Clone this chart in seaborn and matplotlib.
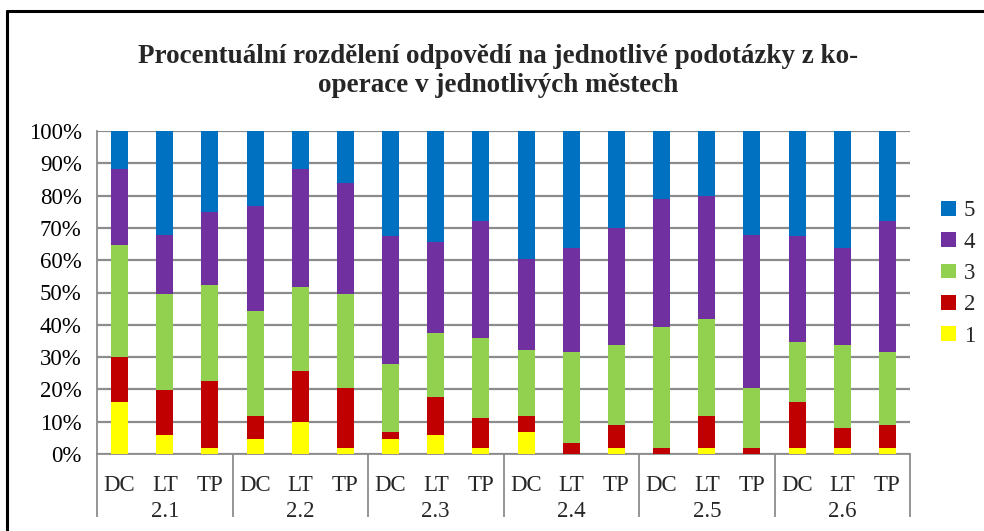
import matplotlib
matplotlib.use("Agg")
import matplotlib.pyplot as plt
import seaborn as sns
import pandas as pd
import numpy as np
from matplotlib.lines import Line2D
from matplotlib.patches import Patch

groups = ["2.1", "2.2", "2.3", "2.4", "2.5", "2.6"]
cities = ["DC", "LT", "TP"]

# percentages for answers 1..5 per bar (2.1 DC, 2.1 LT, 2.1 TP, 2.2 DC, ...)
ans1 = [16.0, 5.8, 2.0, 4.5, 10.0, 2.0, 4.5, 5.8, 2.0, 6.7, 0.0, 2.0, 0.0, 2.0, 0.0, 2.0, 2.0, 2.0]
ans2 = [14.0, 14.0, 20.6, 7.2, 15.8, 18.4, 2.2, 11.8, 9.0, 5.0, 3.5, 7.0, 2.0, 9.7, 2.0, 14.0, 5.9, 7.0]
ans3 = [34.7, 29.7, 29.7, 32.5, 25.9, 29.1, 21.2, 20.0, 25.0, 20.6, 28.2, 24.8, 37.2, 30.2, 18.3, 18.8, 25.8, 22.7]
ans4 = [23.4, 18.4, 22.7, 32.5, 36.4, 34.3, 39.7, 28.1, 36.2, 28.1, 32.2, 36.3, 39.6, 38.1, 47.5, 32.7, 30.2, 40.5]
ans5 = [11.9, 32.1, 25.0, 23.3, 11.9, 16.2, 32.4, 34.3, 27.8, 39.6, 36.1, 29.9, 21.2, 20.0, 32.2, 32.5, 36.1, 27.8]

legend_labels = ["5", "4", "3", "2", "1"]
colors = {"1": "#FFFF00", "2": "#C00000", "3": "#92D050", "4": "#7030A0", "5": "#0070C0"}

keys = [f"{g} {c}" for g in groups for c in cities]
df = pd.DataFrame({"key": keys, "1": ans1, "2": ans2, "3": ans3, "4": ans4, "5": ans5})
df["c1"] = df["1"]
df["c2"] = df["c1"] + df["2"]
df["c3"] = df["c2"] + df["3"]
df["c4"] = df["c3"] + df["4"]
df["c5"] = df["c4"] + df["5"]

sns.set_style("white")
plt.rcParams["font.family"] = ["Liberation Serif", "DejaVu Serif"]

fig = plt.figure(figsize=(9.84, 5.31), dpi=100)
ax = fig.add_axes([97 / 984, 1 - 454 / 531, (910 - 97) / 984, (454 - 131) / 531])

for lvl in ["5", "4", "3", "2", "1"]:
    sns.barplot(data=df, x="key", y="c" + lvl, color=colors[lvl], width=0.38,
                saturation=1, errorbar=None, linewidth=0, ax=ax, zorder=3)

grid_c = "#8c8c8c"
fs = 16.5
ax.set_ylim(0, 100)
ax.set_xlim(-0.5, len(keys) - 0.5)
yt = np.arange(0, 101, 10)
ax.set_yticks(yt)
ax.set_yticklabels([f"{v}%" for v in yt], fontsize=fs)
ax.yaxis.grid(True, color=grid_c, linewidth=1.6, zorder=0)
ax.set_axisbelow(True)
ax.tick_params(axis="y", length=7, width=1.3, color=grid_c, pad=4, labelcolor="black")
ax.set_ylabel("")
ax.set_xlabel("")

for s in ["top", "right"]:
    ax.spines[s].set_visible(False)
for s in ["left", "bottom"]:
    ax.spines[s].set_color(grid_c)
    ax.spines[s].set_linewidth(1.3)

n = len(keys)
ax.set_xticks(np.arange(n))
ax.set_xticklabels([c for g in groups for c in cities], fontsize=fs)
ax.tick_params(axis="x", which="major", length=0, pad=15)
inner = [i + 0.5 for i in range(n - 1) if (i + 1) % 3 != 0]
ax.set_xticks(inner, minor=True)
ax.tick_params(axis="x", which="minor", length=26, width=1.3, color=grid_c)

sec = ax.secondary_xaxis("bottom")
sec.set_xticks([-0.5 + 3 * k for k in range(len(groups) + 1)])
sec.set_xticklabels([])
sec.tick_params(length=45, width=1.3, color=grid_c)
sec.spines["bottom"].set_visible(False)

sec2 = ax.secondary_xaxis("bottom")
sec2.set_xticks([1 + 3 * k for k in range(len(groups))])
sec2.set_xticklabels(groups, fontsize=fs)
sec2.tick_params(length=0, pad=34)
sec2.spines["bottom"].set_visible(False)

fig.text(0.506, 1 - 71 / 531,
         "Procentuální rozdělení odpovědí na jednotlivé podotázky z ko-\noperace v jednotlivých městech",
         ha="center", va="center", fontsize=19.5, fontweight="bold", linespacing=1.2)

handles = [Patch(facecolor=colors[l], edgecolor="none") for l in legend_labels]
fig.legend(handles, legend_labels, loc="center left",
           bbox_to_anchor=(941 / 984, 1 - 273.5 / 531), frameon=False, fontsize=fs,
           handlelength=0.65, handleheight=0.6, handletextpad=0.35, labelspacing=0.45,
           borderpad=0, borderaxespad=0)

fig.add_artist(Line2D([7 / 984, 7 / 984], [-0.1, 1 - 11 / 531], color="black", linewidth=2.2,
                      transform=fig.transFigure))
fig.add_artist(Line2D([7 / 984, 1.1], [1 - 11 / 531, 1 - 11 / 531], color="black", linewidth=2.2,
                      transform=fig.transFigure))

fig.savefig("out.png", dpi=100)
